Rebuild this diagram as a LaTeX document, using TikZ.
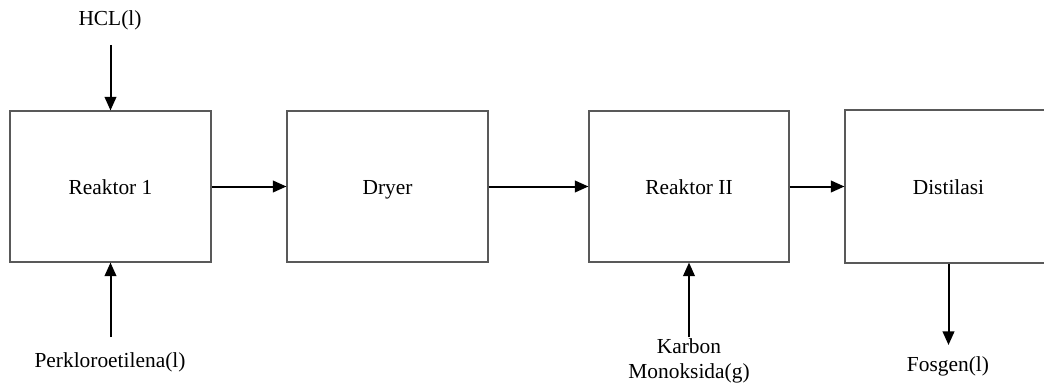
\documentclass[tikz,border=0pt]{standalone}
\usepackage{fontspec}
\setmainfont{Liberation Serif}
\usetikzlibrary{arrows.meta}
\begin{document}
\begin{tikzpicture}[x=0.5pt,y=-0.5pt,
  unitbox/.style={draw=black!65, line width=0.55pt, fill=white, inner sep=0pt, text height=9.9pt, text depth=2.3pt},
  flow/.style={line width=1pt, -{Triangle[length=6.8pt,width=5.8pt]}},
  lbl/.style={inner sep=0pt, align=center},
  font=\fontsize{10.7}{12.5}\selectfont]
\useasboundingbox (0,0) rectangle (1044,385);
\clip (0,0) rectangle (1044,385);
% units
\node[unitbox, minimum width=100.5pt, minimum height=75.5pt] (r1) at (110.5,186.5) {Reaktor 1};
\node[unitbox, minimum width=100.5pt, minimum height=75.5pt] (dry) at (387.5,186.5) {Dryer};
\node[unitbox, minimum width=100pt, minimum height=75.5pt] (r2) at (689,186.5) {Reaktor II};
\node[unitbox, minimum width=103.5pt, minimum height=76.5pt] (dist) at (948.5,186.5) {Distilasi};
% labels
\node[lbl] (hcl) at (110,20) {HCL(l)};
\node[lbl] (perk) at (110,362) {Perkloroetilena(l)};
\node[lbl] (co) at (689,360.5) {Karbon\\Monoksida(g)};
\node[lbl] (fos) at (948,366) {Fosgen(l)};
% free ends
\coordinate (hclS) at (110.5,45);
\coordinate (perkS) at (110.5,337);
\coordinate (coS) at (689,337);
\coordinate (fosE) at (948.5,345);
% connectors
\draw[flow] (hclS) -- (r1.north);
\draw[flow] (perkS) -- (r1.south);
\draw[flow] (r1.east) -- (dry.west);
\draw[flow] (dry.east) -- (r2.west);
\draw[flow] (coS) -- (r2.south);
\draw[flow] (r2.east) -- (dist.west);
\draw[flow] (dist.south) -- (fosE);
\end{tikzpicture}
\end{document}
